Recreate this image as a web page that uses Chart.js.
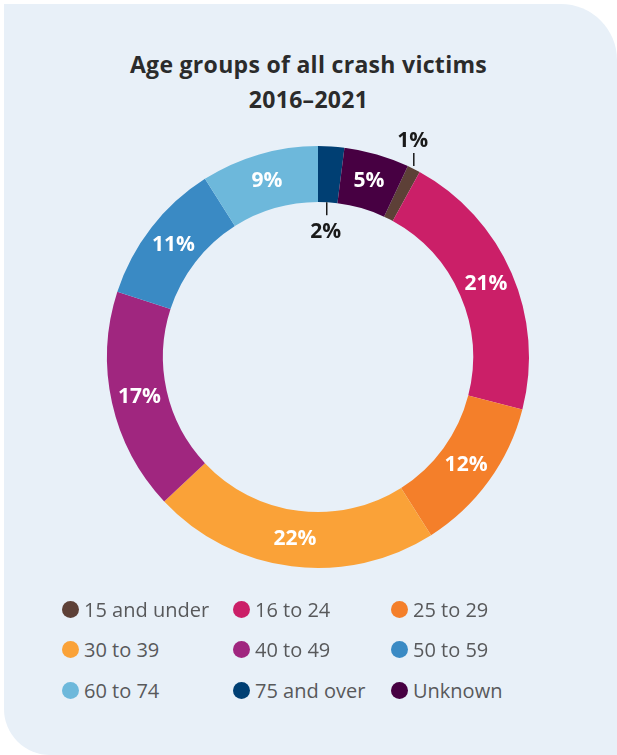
<!DOCTYPE html>
<html>
<head>
<meta charset="utf-8">
<script src="https://cdn.jsdelivr.net/npm/chart.js@4"></script>
<style>
  body { margin: 0; background: #fff; width: 617px; height: 755px; overflow: hidden; font-family: "Open Sans", sans-serif; }
  .card {
    position: absolute; left: 4px; top: 4px; width: 613px; height: 751px;
    background: #e8f0f8;
    border-radius: 0 56px 0 46px;
  }
  .title {
    position: absolute; left: 0; top: 47px; width: 617px; text-align: center;
    font-family: "Open Sans", sans-serif; font-weight: 700; font-size: 23px;
    letter-spacing: 0.3px;
    line-height: 35px; color: #2b2b2b;
  }
  #chartBox { position: absolute; left: 78px; top: 117px; width: 480px; height: 480px; }
  .legend { position: absolute; left: 0; top: 0; }
  .legend-item {
    position: absolute; display: flex; align-items: center;
    font-family: "Open Sans", sans-serif; font-size: 20px; color: #58595b; white-space: nowrap;
  }
  .legend-item .dot { width: 17px; height: 17px; border-radius: 50%; margin-right: 5px; }
</style>
</head>
<body>
<div class="card"></div>
<div class="title">Age groups of all crash victims<br>2016–2021</div>
<div id="chartBox"><canvas id="ageChart" width="480" height="480"></canvas></div>
<div class="legend" id="legend"></div>

<script>
const categories = ['15 and under', '16 to 24', '25 to 29', '30 to 39', '40 to 49', '50 to 59', '60 to 74', '75 and over', 'Unknown'];
const shares = [1, 21, 12, 22, 17, 11, 9, 2, 5];
const colours = ['#5d4037', '#cb1f68', '#f47f2a', '#faa238', '#a0267f', '#3a8ac4', '#6db8db', '#003f73', '#470042'];

// small slices get their label outside the ring with a short leader line
const leaderLabels = { '15 and under': 'out', '75 and over': 'in' };

const sliceLabels = {
  id: 'sliceLabels',
  afterDatasetsDraw(chart) {
    const ctx = chart.ctx;
    const meta = chart.getDatasetMeta(0);
    ctx.save();
    ctx.textAlign = 'center';
    ctx.textBaseline = 'middle';
    ctx.font = '700 21px "Open Sans", sans-serif';
    meta.data.forEach((arc, i) => {
      const p = arc.getProps(['x', 'y', 'startAngle', 'endAngle', 'innerRadius', 'outerRadius'], true);
      const mid = (p.startAngle + p.endAngle) / 2;
      const cos = Math.cos(mid), sin = Math.sin(mid);
      const text = shares[i] + '%';
      const mode = leaderLabels[categories[i]];
      if (mode === 'out') {
        const x0 = p.x + cos * p.outerRadius, y0 = p.y + sin * p.outerRadius;
        ctx.strokeStyle = '#1a1a1a';
        ctx.lineWidth = 1.5;
        ctx.beginPath();
        ctx.moveTo(x0, y0 - 3);
        ctx.lineTo(x0, y0 - 16);
        ctx.stroke();
        ctx.fillStyle = '#1a1a1a';
        ctx.fillText(text, x0 - 1, y0 - 28);
      } else if (mode === 'in') {
        const x0 = p.x + cos * p.innerRadius, y0 = p.y + sin * p.innerRadius;
        ctx.strokeStyle = '#1a1a1a';
        ctx.lineWidth = 1.5;
        ctx.beginPath();
        ctx.moveTo(x0 - 1, y0);
        ctx.lineTo(x0 - 1, y0 + 13);
        ctx.stroke();
        ctx.fillStyle = '#1a1a1a';
        ctx.fillText(text, x0 - 2, y0 + 30);
      } else {
        const r = (p.innerRadius + p.outerRadius) / 2;
        ctx.fillStyle = '#fff';
        ctx.fillText(text, p.x + cos * r, p.y + sin * r);
      }
    });
    ctx.restore();
  }
};

new Chart(document.getElementById('ageChart'), {
  type: 'doughnut',
  data: {
    labels: categories,
    datasets: [{
      data: shares,
      backgroundColor: colours,
      borderWidth: 0
    }]
  },
  options: {
    responsive: false,
    animation: false,
    rotation: 25.2,
    cutout: '73.5%',
    layout: { padding: 29 },
    plugins: {
      legend: { display: false },
      tooltip: { enabled: false }
    }
  },
  plugins: [sliceLabels]
});

// legend in three columns
const legend = document.getElementById('legend');
const colX = [62, 233, 391];
const rowY = [609, 649, 690];
categories.forEach((name, i) => {
  const item = document.createElement('div');
  item.className = 'legend-item';
  item.style.left = colX[i % 3] + 'px';
  item.style.top = (rowY[Math.floor(i / 3)] - 15) + 'px';
  item.style.height = '30px';
  item.innerHTML = `<span class="dot" style="background:${colours[i]}"></span><span>${name}</span>`;
  legend.appendChild(item);
});
</script>
</body>
</html>
